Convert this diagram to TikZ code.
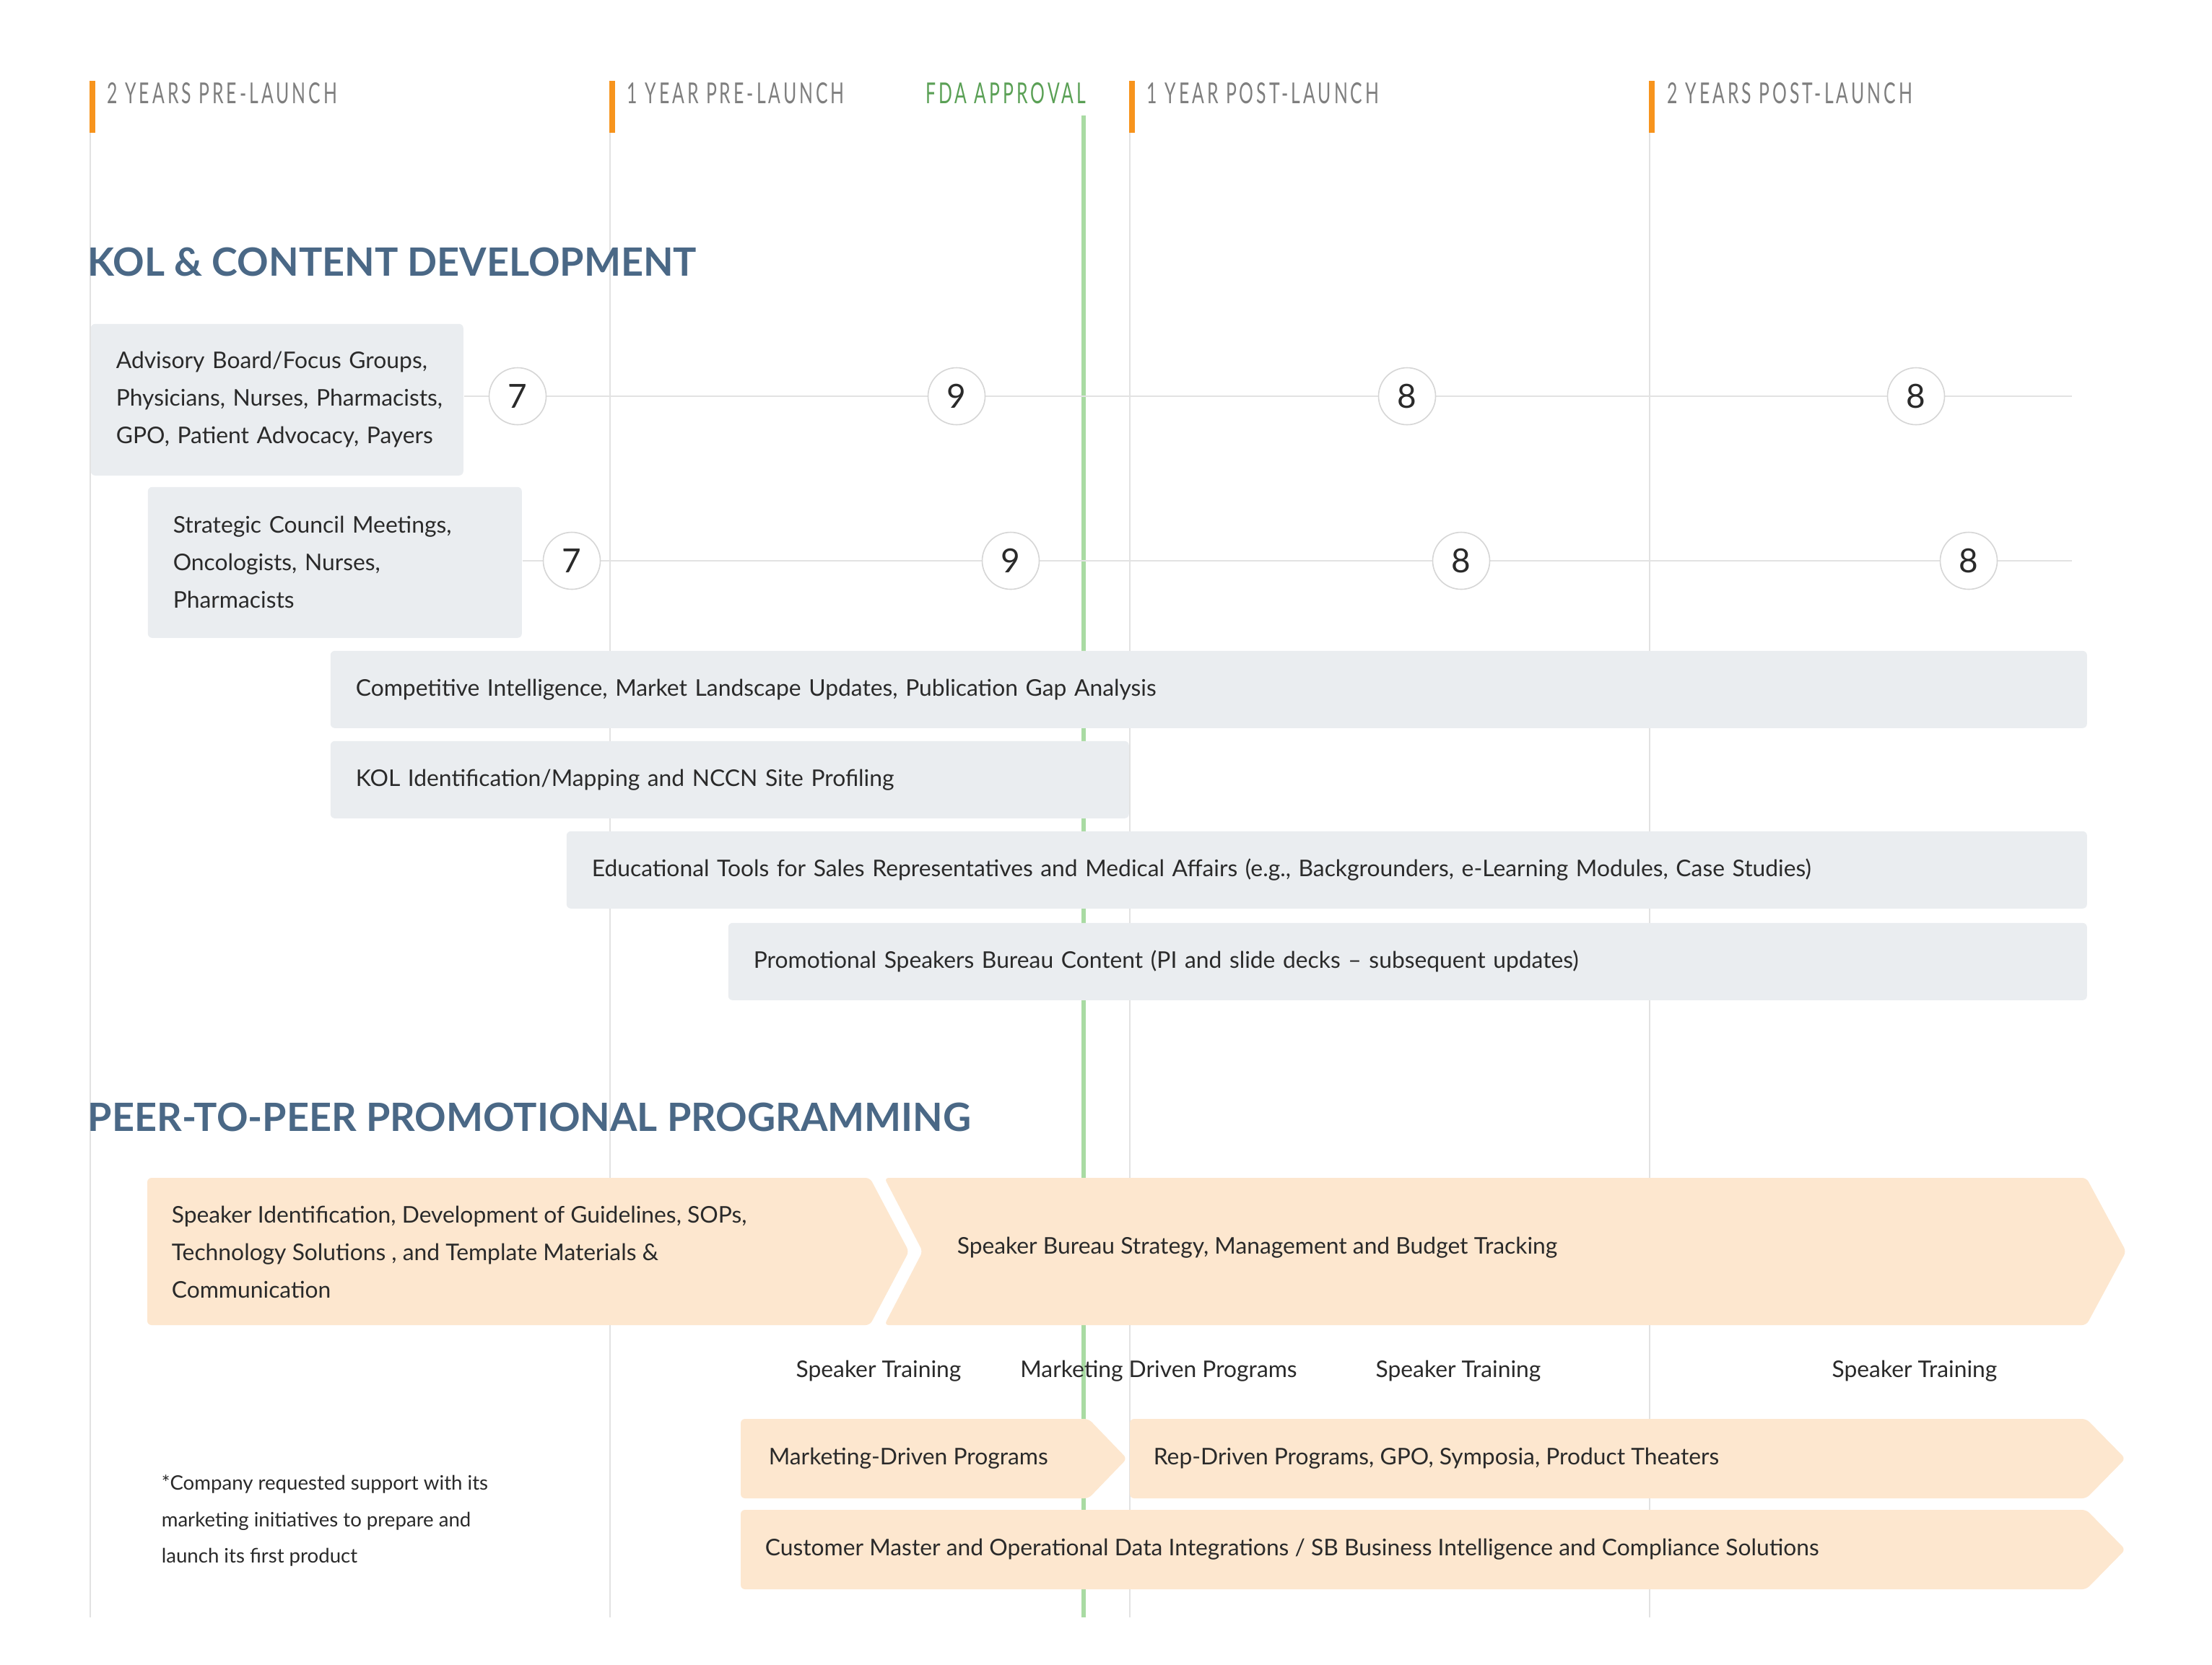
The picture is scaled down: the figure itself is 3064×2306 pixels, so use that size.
\documentclass[tikz,border=0pt]{standalone}
\usepackage{fontspec}
\setmainfont{Lato}
\newfontfamily\condfont[FakeStretch=0.62,LetterSpace=10]{Lato}
\definecolor{boxgray}{HTML}{EAEDF0}
\definecolor{peach}{HTML}{FDE7CF}
\definecolor{headblue}{HTML}{4A6886}
\definecolor{barorange}{HTML}{F7941D}
\definecolor{fdagreen}{HTML}{A9DBA3}
\definecolor{fdatext}{HTML}{5AA055}
\definecolor{gridgray}{HTML}{E2E2E2}
\definecolor{circgray}{HTML}{D6D6D6}
\definecolor{txt}{HTML}{2A2A2A}
\definecolor{labgray}{HTML}{7E7E7E}
\newcommand{\ind}{\hspace*{8.75pt}}
\tikzset{
  vline/.style={draw=gridgray, line width=0.5pt},
  hline/.style={draw=gridgray, line width=0.7pt},
  obar/.style={fill=barorange},
  period/.style={anchor=base west, inner sep=0pt, text=labgray, font=\condfont\fontsize{10}{10}\selectfont},
  heading/.style={anchor=base west, inner sep=0pt, text=headblue, font=\bfseries\fontsize{13.5}{14}\selectfont},
  gbox/.style={fill=boxgray, rounded corners=1.5pt, inner xsep=8.75pt, inner ysep=0pt, align=left, anchor=north west, text=txt, font=\fontsize{7.95}{13}\selectfont},
  tallbox/.style={gbox, inner xsep=0pt},
  numc/.style={circle, draw=circgray, line width=0.4pt, fill=white, minimum size=19.75pt, inner sep=0pt, text=txt, font=\fontsize{11.5}{12}\selectfont},
  chev/.style={fill=peach, rounded corners=1.5pt},
  ctext/.style={anchor=west, inner sep=0pt, align=left, text=txt, font=\fontsize{7.95}{13}\selectfont},
  plain/.style={anchor=center, inner sep=0pt, text=txt, font=\fontsize{7.95}{13}\selectfont},
  foot/.style={anchor=west, inner sep=0pt, align=left, text=txt, font=\fontsize{6.9}{12.7}\selectfont},
}
\begin{document}
\begin{tikzpicture}[x=0.25pt,y=-0.25pt]
\useasboundingbox[fill=white] (0,0) rectangle (3064,2306);
% grid lines
\foreach \gx in {125,845,1565,2285} {
  \draw[vline] (\gx,184) -- (\gx,2241);
  \fill[obar] (\gx-1,112) rectangle (\gx+7,184);
}
\draw[draw=fdagreen, line width=1.35pt] (1501,160) -- (1501,2241);
% period labels
\node[period] (p1) at (148,143) {2 YEARS PRE-LAUNCH};
\node[period] (p2) at (868,143) {1 YEAR PRE-LAUNCH};
\node[period, anchor=base east, text=fdatext] (fda) at (1505,143) {FDA APPROVAL};
\node[period] (p3) at (1588,143) {1 YEAR POST-LAUNCH};
\node[period] (p4) at (2309,143) {2 YEARS POST-LAUNCH};
% headings
\node[heading] (h1) at (121,382) {KOL \& CONTENT DEVELOPMENT};
\node[heading] (h2) at (121,1567) {PEER-TO-PEER PROMOTIONAL PROGRAMMING};
% KOL rows
\node[tallbox, text width=129pt, minimum height=52.5pt] (adv) at (125,448)
  {\ind Advisory Board/Focus Groups,\\\ind Physicians, Nurses, Pharmacists,\\\ind GPO, Patient Advocacy, Payers};
\node[tallbox, text width=129.5pt, minimum height=52.25pt] (scm) at (204,674)
  {\ind Strategic Council Meetings,\\\ind Oncologists, Nurses,\\\ind Pharmacists};
\coordinate (e1) at (2870,549);
\coordinate (e2) at (2870,777);
\draw[hline] (adv.east |- e1) -- (e1);
\draw[hline] (scm.east |- e2) -- (e2);
\node[numc] (c11) at (717,549) {7};
\node[numc] (c12) at (1325,549) {9};
\node[numc] (c13) at (1949,549) {8};
\node[numc] (c14) at (2654,549) {8};
\node[numc] (c21) at (792,777) {7};
\node[numc] (c22) at (1400,777) {9};
\node[numc] (c23) at (2024,777) {8};
\node[numc] (c24) at (2727,777) {8};
\node[gbox, text width=590.75pt, minimum height=26.75pt] (ci) at (457,901)
  {Competitive Intelligence, Market Landscape Updates, Publication Gap Analysis};
\node[gbox, text width=259pt, minimum height=26.75pt] (kol) at (457,1026)
  {KOL Identification/Mapping and NCCN Site Profiling};
\node[gbox, text width=509pt, minimum height=26.75pt] (edu) at (784,1151)
  {Educational Tools for Sales Representatives and Medical Affairs (e.g., Backgrounders, e-Learning Modules, Case Studies)};
\node[gbox, text width=453pt, minimum height=26.75pt] (psb) at (1008,1278)
  {Promotional Speakers Bureau Content (PI and slide decks -- subsequent updates)};
% peer-to-peer chevrons
\fill[chev] (204,1632) -- (1205,1632) -- (1259,1734) -- (1205,1836) -- (204,1836) -- cycle;
\fill[chev] (1225,1632) -- (2890,1632) -- (2945,1734) -- (2890,1836) -- (1225,1836) -- (1278,1734) -- cycle;
\node[ctext] (sid) at (237,1735)
  {Speaker Identification, Development of Guidelines, SOPs,\\Technology Solutions , and Template Materials \&\\Communication};
\node[ctext] (sbs) at (1325,1729) {Speaker Bureau Strategy, Management and Budget Tracking};
\node[plain] (st1) at (1217,1900) {Speaker Training};
\node[plain] (mdp) at (1605,1900) {Marketing Driven Programs};
\node[plain] (st2) at (2020,1900) {Speaker Training};
\node[plain] (st3) at (2652,1900) {Speaker Training};
\fill[chev] (1026,1966) -- (1508,1966) -- (1561,2021) -- (1508,2076) -- (1026,2076) -- cycle;
\fill[chev] (1565,1966) -- (2890,1966) -- (2944,2021) -- (2890,2076) -- (1565,2076) -- cycle;
\fill[chev] (1026,2092) -- (2890,2092) -- (2944,2147) -- (2890,2202) -- (1026,2202) -- cycle;
\node[ctext] (mkt) at (1064,2021) {Marketing-Driven Programs};
\node[ctext] (rep) at (1597,2021) {Rep-Driven Programs, GPO, Symposia, Product Theaters};
\node[ctext] (cm) at (1059,2147) {Customer Master and Operational Data Integrations / SB Business Intelligence and Compliance Solutions};
\node[foot] (fn) at (223,2107) {*Company requested support with its\\marketing initiatives to prepare and\\launch its first product};
\end{tikzpicture}
\end{document}
